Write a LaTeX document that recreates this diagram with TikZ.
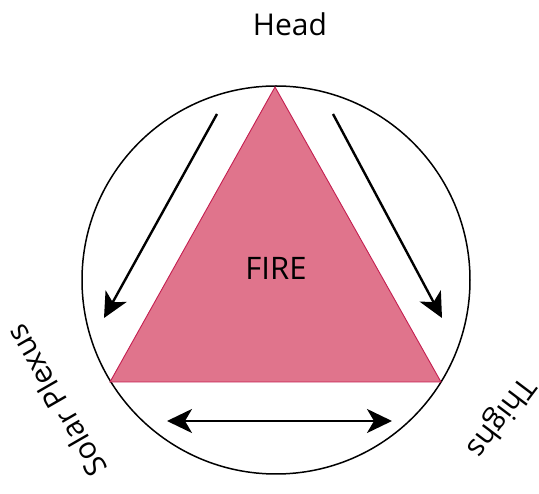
\documentclass[tikz,border=0pt]{standalone}
\usepackage{fontspec}
\setmainfont{Open Sans}
\usetikzlibrary{arrows.meta}
\definecolor{firefill}{RGB}{224,116,140}
\definecolor{fireedge}{RGB}{196,30,80}
\tikzset{
  lbl/.style={font=\fontsize{30}{32}\selectfont, inner sep=0pt},
  flow/.style={line width=2.4pt, -{Stealth[length=25pt,width=24pt,inset=7pt]}},
  flow2/.style={line width=2.4pt, {Stealth[length=25pt,width=24pt,inset=7pt]}-{Stealth[length=25pt,width=24pt,inset=7pt]}},
}
\begin{document}
\begin{tikzpicture}[x=1pt,y=-1pt]
\useasboundingbox (0,0) rectangle (539,494);
\fill[white] (0,0) rectangle (539,494);
% circle
\node[draw, circle, line width=1.5pt, minimum size=388pt, inner sep=0pt] (ring) at (276,280) {};
% triangle
\coordinate (apex) at (275,87);
\coordinate (bl) at (110,382);
\coordinate (br) at (441,382);
\filldraw[fill=firefill, draw=fireedge, line width=0.9pt, line join=miter] (apex) -- (bl) -- (br) -- cycle;
\node[lbl, font=\fontsize{31}{33}\selectfont] (fire) at (276,268) {FIRE};
% arrows
\coordinate (l1) at (217,114);
\coordinate (l2) at (104,318);
\coordinate (r1) at (333,114);
\coordinate (r2) at (442,318);
\coordinate (b1) at (167,421);
\coordinate (b2) at (392,421);
\draw[flow] (l1) -- (l2);
\draw[flow] (r1) -- (r2);
\draw[flow2] (b1) -- (b2);
% labels
\node[lbl] (head) at (290,24) {Head};
\node[lbl, rotate=120] (solar) at (56,401) {Solar Plexus};
\node[lbl, rotate=-127] (thighs) at (500,417) {Thighs};
\end{tikzpicture}
\end{document}
